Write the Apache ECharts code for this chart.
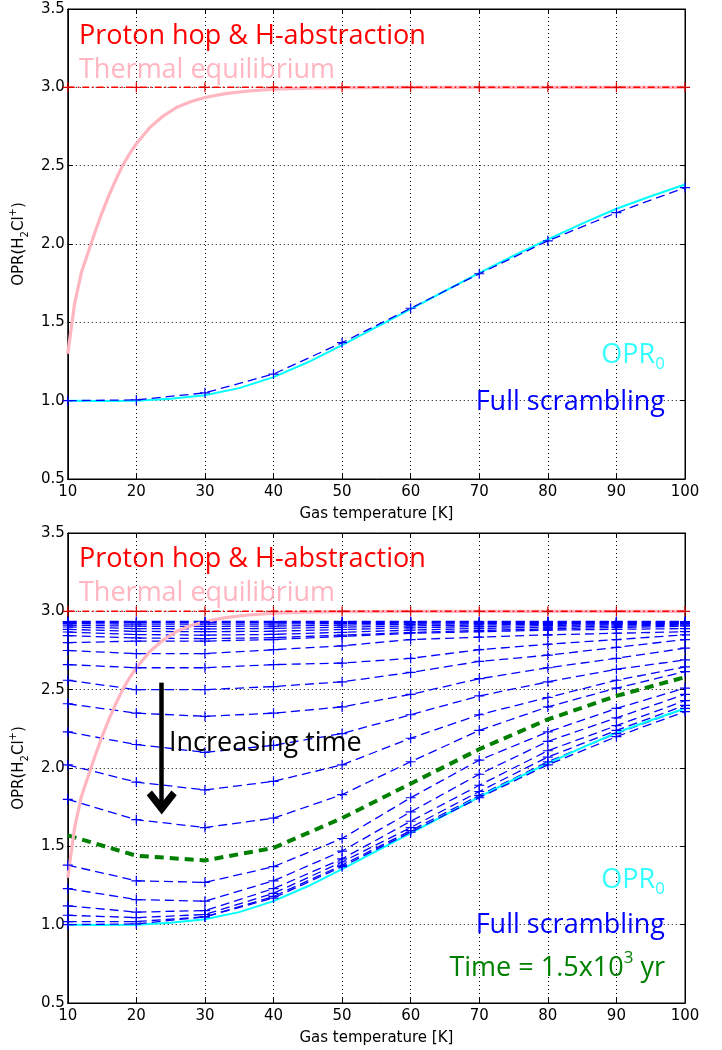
<!DOCTYPE html>
<html><head><meta charset="utf-8">
<script src="https://cdn.jsdelivr.net/npm/echarts@6/dist/echarts.min.js"></script>
<style>html,body{margin:0;padding:0;background:#fff}#c{width:722px;height:1050px}</style>
</head><body><div id="c"></div>
<script>
// ---------- data ----------
const temps = [10, 20, 30, 40, 50, 60, 70, 80, 90, 100];
const yTicksMin = 0.5, yTicksMax = 3.5, yTickStep = 0.5;

// thermal equilibrium OPR (curve)
const thermalEq = [[10,1.30],[11,1.62],[12,1.82],[13,1.95],[14,2.08],[15,2.20],[16,2.31],[17,2.41],[18,2.50],[19,2.575],[20,2.64],[22,2.745],[24,2.82],[26,2.875],[28,2.91],[30,2.935],[33,2.96],[36,2.975],[40,2.988],[45,2.995],[50,2.998],[60,3.0],[70,3.0],[80,3.0],[90,3.0],[100,3.0]];
// OPR_0 (cyan curve)
const opr0 = [[10,1.0],[15,0.998],[20,1.0],[25,1.012],[30,1.035],[35,1.08],[40,1.15],[45,1.245],[50,1.355],[55,1.47],[60,1.585],[65,1.70],[70,1.815],[75,1.925],[80,2.03],[85,2.13],[90,2.225],[95,2.305],[100,2.38]];
// proton hop & H-abstraction (statistical limit)
const protonHop = [3, 3, 3, 3, 3, 3, 3, 3, 3, 3];
// full scrambling (steady state)
const fullScrambling = [1.00, 1.005, 1.05, 1.17, 1.37, 1.59, 1.81, 2.02, 2.20, 2.36];
// time = 1.5x10^3 yr
const time1500yr = [1.57, 1.44, 1.41, 1.49, 1.68, 1.90, 2.12, 2.31, 2.46, 2.58];

// time-dependent OPR curves, ordered by increasing time
const t01 = [2.935, 2.935, 2.935, 2.935, 2.935, 2.935, 2.935, 2.935, 2.935, 2.935];
const t02 = [2.930, 2.928, 2.928, 2.928, 2.930, 2.930, 2.932, 2.932, 2.932, 2.932];
const t03 = [2.922, 2.918, 2.918, 2.919, 2.922, 2.925, 2.927, 2.928, 2.929, 2.930];
const t04 = [2.912, 2.905, 2.904, 2.906, 2.912, 2.917, 2.921, 2.923, 2.925, 2.927];
const t05 = [2.900, 2.890, 2.888, 2.891, 2.899, 2.907, 2.913, 2.917, 2.920, 2.923];
const t06 = [2.885, 2.872, 2.870, 2.873, 2.884, 2.895, 2.903, 2.909, 2.914, 2.918];
const t07 = [2.868, 2.852, 2.848, 2.853, 2.866, 2.880, 2.891, 2.899, 2.906, 2.912];
const t08 = [2.845, 2.830, 2.826, 2.832, 2.848, 2.865, 2.878, 2.888, 2.897, 2.905];
const t09 = [2.80, 2.81, 2.81, 2.82, 2.84, 2.86, 2.87, 2.88, 2.885, 2.89];
const t10 = [2.75, 2.73, 2.73, 2.755, 2.78, 2.82, 2.835, 2.85, 2.86, 2.87];
const t11 = [2.66, 2.64, 2.64, 2.66, 2.67, 2.70, 2.755, 2.79, 2.82, 2.85];
const t12 = [2.56, 2.50, 2.50, 2.52, 2.55, 2.61, 2.68, 2.72, 2.77, 2.82];
const t13 = [2.41, 2.35, 2.33, 2.35, 2.39, 2.47, 2.57, 2.64, 2.70, 2.765];
const t14 = [2.23, 2.15, 2.10, 2.145, 2.22, 2.34, 2.46, 2.55, 2.63, 2.69];
const t15 = [2.02, 1.91, 1.86, 1.915, 2.02, 2.19, 2.34, 2.45, 2.56, 2.645];
const t16 = [1.80, 1.67, 1.62, 1.68, 1.83, 2.04, 2.24, 2.39, 2.51, 2.615];
const t17 = [1.38, 1.28, 1.27, 1.37, 1.55, 1.81, 2.05, 2.23, 2.38, 2.51];
const t18 = [1.23, 1.16, 1.15, 1.28, 1.47, 1.72, 1.96, 2.17, 2.32, 2.47];
const t19 = [1.12, 1.08, 1.09, 1.23, 1.42, 1.66, 1.89, 2.11, 2.27, 2.43];
const t20 = [1.06, 1.045, 1.065, 1.20, 1.40, 1.62, 1.85, 2.07, 2.24, 2.40];
const t21 = [1.02, 1.02, 1.05, 1.18, 1.38, 1.60, 1.825, 2.04, 2.22, 2.38];
const timeCurves = [t01,t02,t03,t04,t05,t06,t07,t08,t09,t10,t11,t12,t13,t14,t15,t16,t17,t18,t19,t20,t21];

// arrow annotation ("Increasing time")
const arrowX = 23.7, arrowFrom = 2.545, arrowTo = 1.78;

// ---------- chart ----------
const chart = echarts.init(document.getElementById('c'), null, {renderer:'canvas'});
const pair = arr => temps.map((t, i) => [t, arr[i]]);
const PLUS = 'path://M0,4.4L10,4.4L10,5.6L0,5.6Z M4.4,0L5.6,0L5.6,10L4.4,10Z';
const TICKFONT = 'DejaVu Sans';
const ANNFONT = 'Open Sans';
const ANNSIZE = 27;

function xAxes(g) {
  return [
    {gridIndex:g, type:'value', min:10, max:100, interval:10,
     name:'Gas temperature [K]', nameLocation:'middle', nameGap:28,
     nameTextStyle:{fontSize:15, color:'#000', fontFamily:TICKFONT},
     axisLine:{onZero:false, lineStyle:{color:'#000', width:1}},
     axisTick:{inside:true, length:5, lineStyle:{color:'#000'}},
     axisLabel:{fontSize:15, color:'#000', margin:6, fontFamily:TICKFONT},
     splitLine:{show:true, lineStyle:{type:[1,3], color:'#000', width:1}}},
    {gridIndex:g, type:'value', position:'top', min:10, max:100, interval:10,
     axisLine:{onZero:false, lineStyle:{color:'#000', width:1}},
     axisTick:{inside:true, length:5, lineStyle:{color:'#000'}},
     axisLabel:{show:false}, splitLine:{show:false}}
  ];
}
function yAxes(g) {
  return [
    {gridIndex:g, type:'value', min:yTicksMin, max:yTicksMax, interval:yTickStep,
     name:'{a|OPR(H}{s|2}{a|Cl}{p|+}{a|)}', nameLocation:'middle', nameGap:33, nameRotate:90,
     nameTextStyle:{color:'#000', fontFamily:TICKFONT,
       rich:{a:{fontSize:15, lineHeight:22, verticalAlign:'middle', fontFamily:TICKFONT, color:'#000'},
             s:{fontSize:10, lineHeight:22, verticalAlign:'bottom', fontFamily:TICKFONT, color:'#000'},
             p:{fontSize:10, lineHeight:22, verticalAlign:'top', fontFamily:TICKFONT, color:'#000'}}},
     axisLine:{onZero:false, lineStyle:{color:'#000', width:1}},
     axisTick:{inside:true, length:5, lineStyle:{color:'#000'}},
     axisLabel:{fontSize:15, color:'#000', margin:3, fontFamily:TICKFONT, formatter:v => v.toFixed(1)},
     splitLine:{show:true, lineStyle:{type:[1,3], color:'#000', width:1}}},
    {gridIndex:g, type:'value', position:'right', min:yTicksMin, max:yTicksMax, interval:yTickStep,
     axisLine:{onZero:false, lineStyle:{color:'#000', width:1}},
     axisTick:{inside:true, length:5, lineStyle:{color:'#000'}},
     axisLabel:{show:false}, splitLine:{show:false}}
  ];
}

function blueDashed(data, xi, yi, name) {
  return {type:'line', name, xAxisIndex:xi, yAxisIndex:yi, data,
    symbol:PLUS, symbolSize:10, showSymbol:true, silent:true, animation:false,
    itemStyle:{color:'#0000ff'},
    lineStyle:{color:'#0000ff', width:1.3, type:[9,5]}};
}
function redLine(xi, yi) {
  return {type:'line', name:'Proton hop & H-abstraction', xAxisIndex:xi, yAxisIndex:yi, data:pair(protonHop),
    symbol:PLUS, symbolSize:10, showSymbol:true, silent:true, animation:false,
    itemStyle:{color:'#dd0000'},
    lineStyle:{color:'#ff0000', width:1.5, type:[7,3,1.5,3]}};
}
function pinkLine(xi, yi) {
  return {type:'line', name:'Thermal equilibrium', xAxisIndex:xi, yAxisIndex:yi, data:thermalEq,
    smooth:false, showSymbol:false, silent:true, animation:false,
    lineStyle:{color:'#ffb6c1', width:3.2, join:'round'}};
}
function cyanLine(xi, yi) {
  return {type:'line', name:'OPR0', xAxisIndex:xi, yAxisIndex:yi, data:opr0,
    smooth:false, showSymbol:false, silent:true, animation:false,
    lineStyle:{color:'#00ffff', width:2, join:'round'}};
}

const series = [];
// top panel
series.push(pinkLine(0, 0));
series.push(cyanLine(0, 0));
series.push(blueDashed(pair(fullScrambling), 0, 0, 'Full scrambling'));
series.push(redLine(0, 0));
// bottom panel
timeCurves.forEach((c, i) => series.push(blueDashed(pair(c), 2, 2, 't' + i)));
series.push({type:'line', name:'Time = 1.5x10^3 yr', xAxisIndex:2, yAxisIndex:2, data:pair(time1500yr),
  showSymbol:false, silent:true, animation:false,
  lineStyle:{color:'#008000', width:4, type:[9,6]},
  markLine:{silent:true, animation:false, symbol:['none','path://M10,0L20,12L16.5,15L10,7.5L3.5,15L0,12Z'], symbolSize:[30,24],
    label:{show:false}, lineStyle:{color:'#000', width:4.5, type:'solid'},
    data:[[{coord:[arrowX, arrowFrom]}, {coord:[arrowX, arrowTo]}]]}});
series.push(cyanLine(2, 2));
series.push(blueDashed(pair(fullScrambling), 2, 2, 'Full scrambling'));
series.push(pinkLine(2, 2));
series.push(redLine(2, 2));

function txt(x, y, text, color, align, rich) {
  const st = {text, x, y, fill:color, fontSize:ANNSIZE, fontFamily:ANNFONT, align:align || 'left', verticalAlign:'middle'};
  if (rich) st.rich = rich;
  return {type:'text', style:st, z:100, silent:true};
}
function subRich(color) {
  return {a:{fontSize:ANNSIZE, lineHeight:36, verticalAlign:'middle', fill:color, fontFamily:ANNFONT},
          s:{fontSize:17, lineHeight:36, verticalAlign:'bottom', fill:color, fontFamily:ANNFONT},
          p:{fontSize:17, lineHeight:36, verticalAlign:'top', fill:color, fontFamily:ANNFONT}};
}

const graphics = [
  txt(79, 36, 'Proton hop & H-abstraction', '#ff0000'),
  txt(79, 70, 'Thermal equilibrium', '#ffb6c1'),
  txt(665, 355, '{a|OPR}{s|0}', '#33ffff', 'right', subRich('#33ffff')),
  txt(665, 402, 'Full scrambling', '#0000ff', 'right'),
  txt(79, 559, 'Proton hop & H-abstraction', '#ff0000'),
  txt(79, 593, 'Thermal equilibrium', '#ffb6c1'),
  txt(169, 743, 'Increasing time', '#000000'),
  txt(665, 880, '{a|OPR}{s|0}', '#33ffff', 'right', subRich('#33ffff')),
  txt(665, 925, 'Full scrambling', '#0000ff', 'right'),
  txt(665, 968, '{a|Time = 1.5x10}{p|3}{a| yr}', '#008000', 'right', subRich('#008000'))
];

chart.setOption({
  animation:false,
  backgroundColor:'#ffffff',
  grid:[
    {left:66, right:37, top:9, height:470, show:true, borderColor:'#000', borderWidth:1, backgroundColor:'transparent'},
    {left:66, right:37, top:533, height:470, show:true, borderColor:'#000', borderWidth:1, backgroundColor:'transparent'}
  ],
  xAxis:[...xAxes(0), ...xAxes(1)],
  yAxis:[...yAxes(0), ...yAxes(1)],
  series,
  graphic:graphics
});
</script></body></html>
